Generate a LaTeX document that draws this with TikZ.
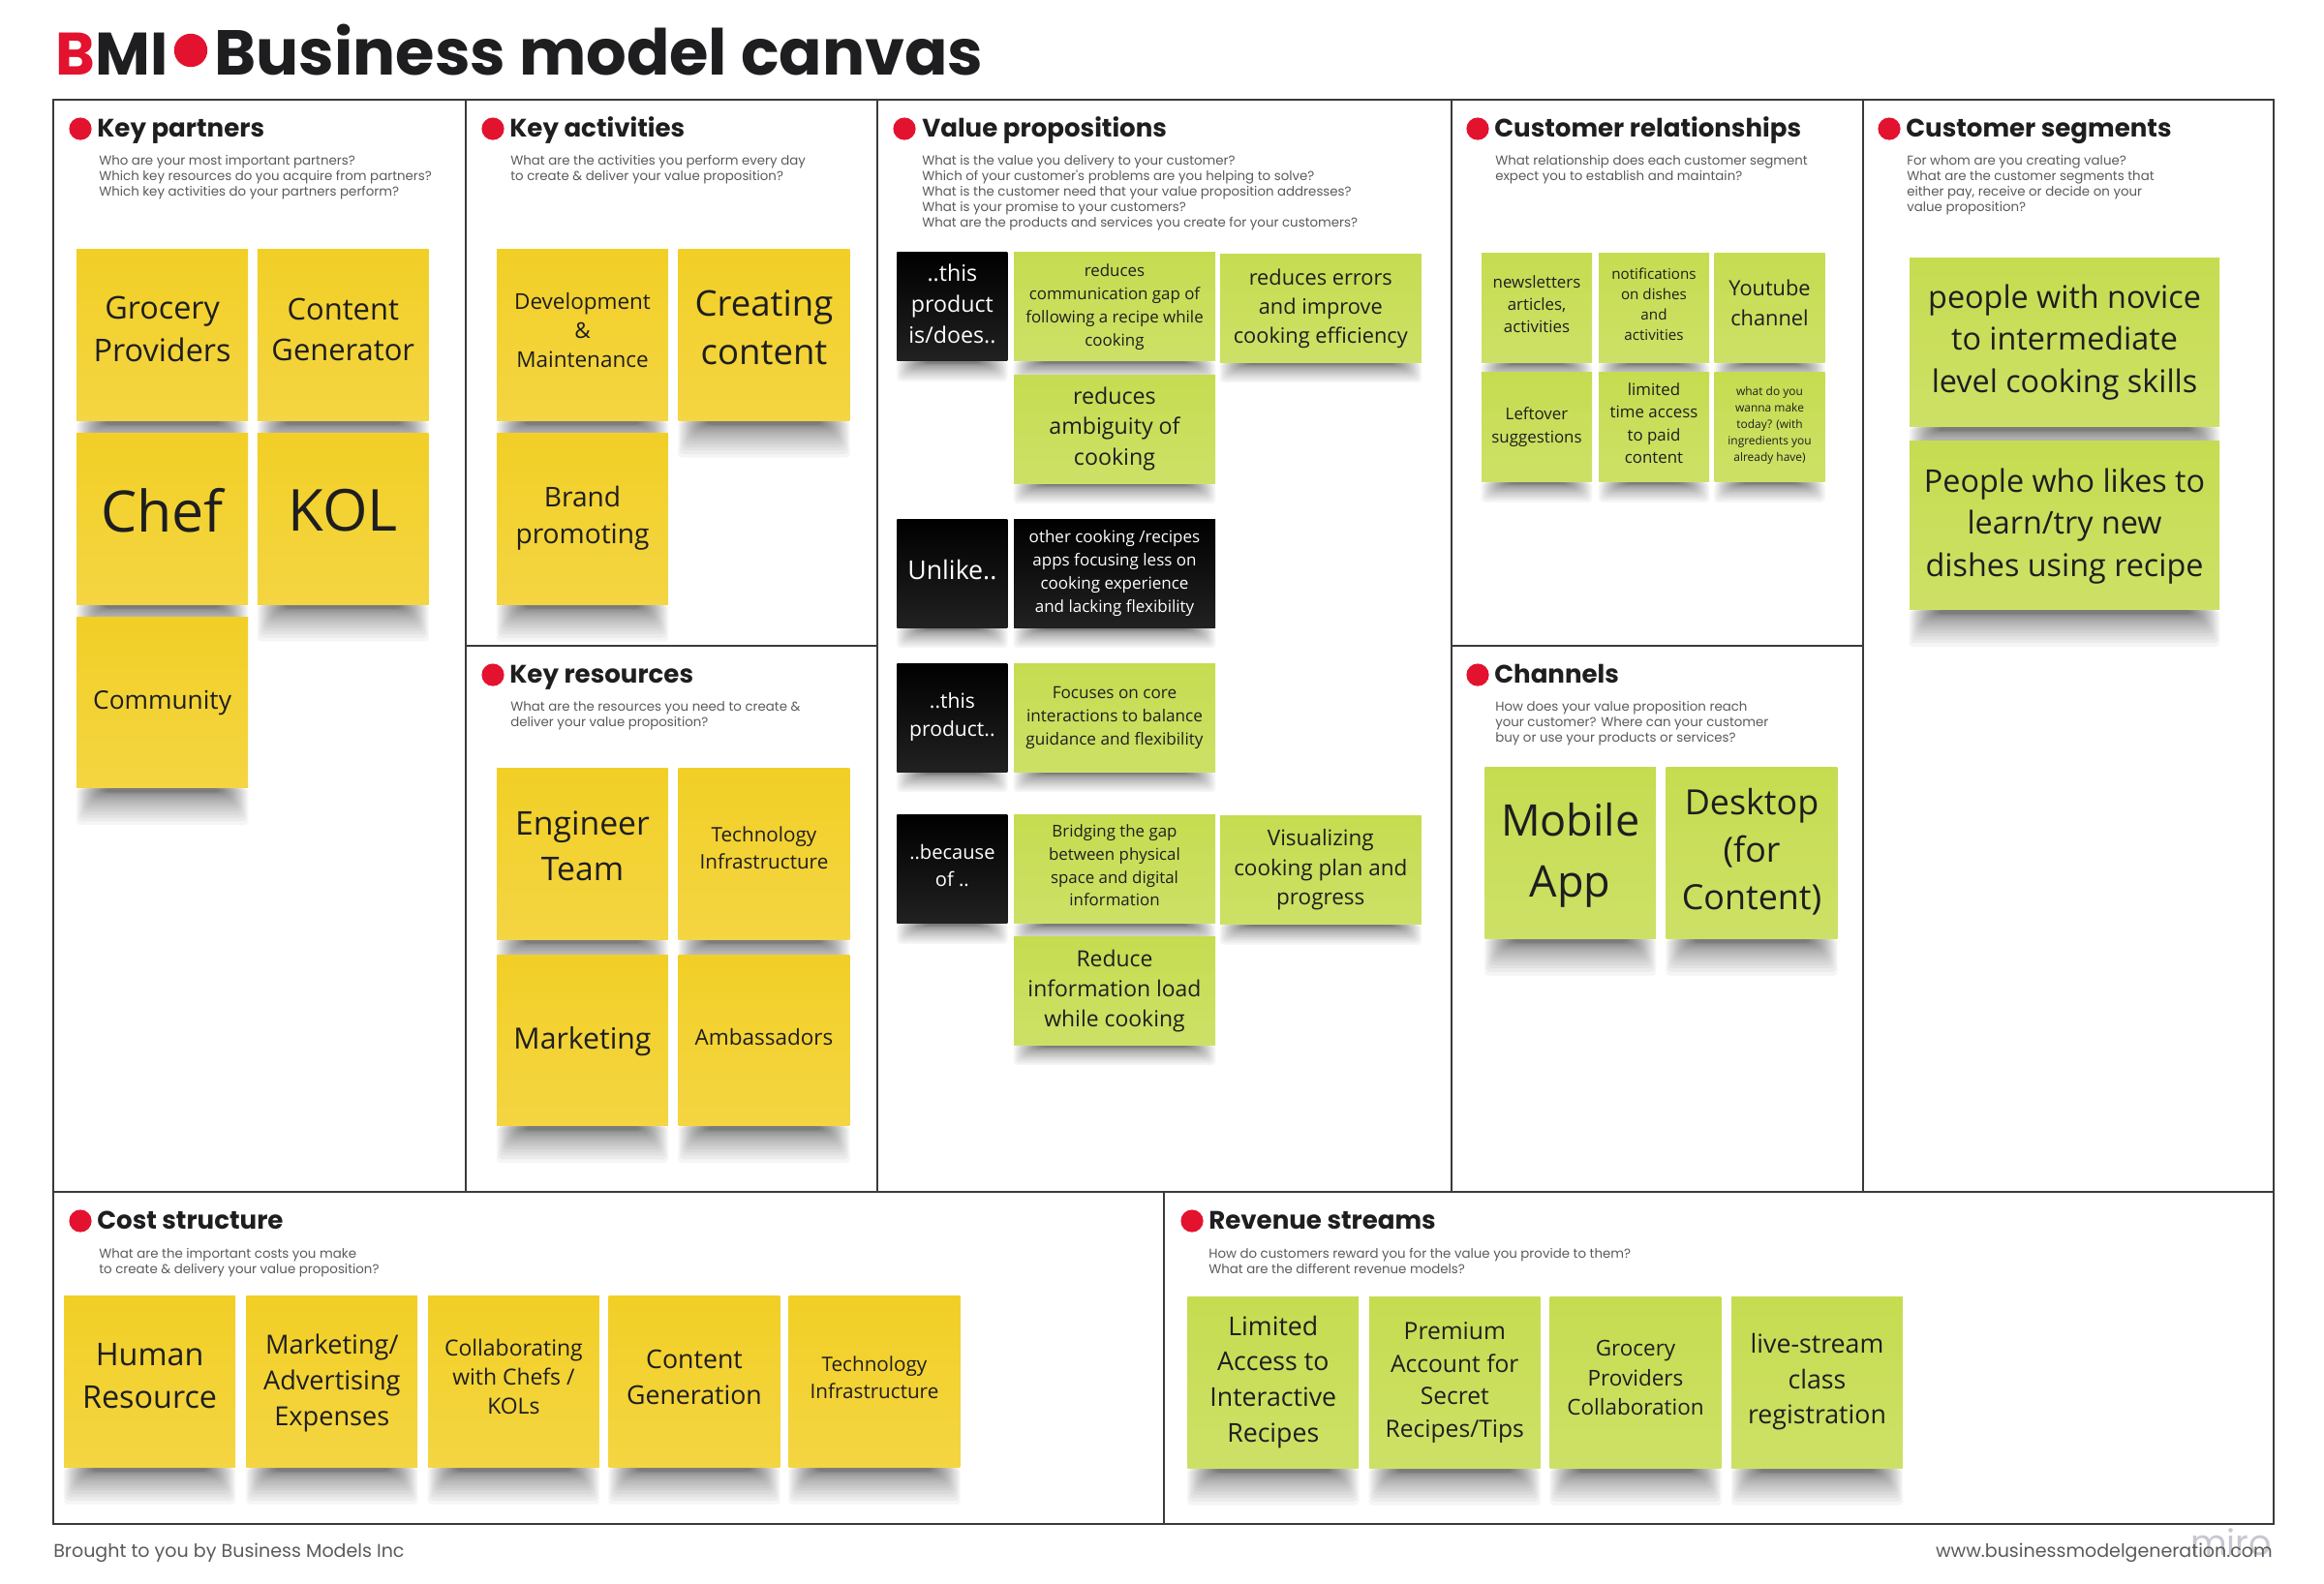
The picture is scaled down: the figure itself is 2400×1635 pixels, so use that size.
\documentclass[tikz,border=0pt]{standalone}
\usepackage{fontspec}
\setmainfont{Open Sans}
\newfontfamily\headfont{Poppins}
\usepackage{xcolor}
\usetikzlibrary{calc,backgrounds}
\definecolor{bmired}{HTML}{E3122F}
\definecolor{inkdark}{HTML}{1E1E20}
\definecolor{panelline}{HTML}{3A3A3A}
\definecolor{askgrey}{HTML}{5A5A5A}
\definecolor{stickyellow}{HTML}{F2CF26}
\definecolor{stickgreen}{HTML}{C6DC50}
\definecolor{watermark}{HTML}{C8C8D2}
\newcommand{\castshadow}[2]{%
  \foreach \n in {#2} {
    \foreach \k in {0,...,17} {
      \fill[black, opacity=0.038, rounded corners=1mm]
        ($(\n.south west)+({1.8*\k},0)$) rectangle ($(\n.south east)+({-1.8*\k},{#1*(4+34*(1-\k/17)^2)})$);
    }
  }
}
\newcommand{\lft}[1]{\\[\dimexpr1.4226pt*#1-\baselineskip\relax]\null}
\tikzset{
  fs/.style 2 args={font=\fontsize{#1}{#2}\selectfont},
  panel/.style={draw=panelline, line width=0.5mm},
  stick/.style={rectangle, top color=#1, bottom color=#1!87!white, text=inkdark,
                align=center, inner sep=0pt},
  big/.style={minimum width=44.2mm, minimum height=44.2mm},
  wide/.style={minimum width=52mm, minimum height=28mm},
  small/.style={minimum width=28.5mm, minimum height=28mm},
  blacknote/.style={stick=black, text=white},
  dot/.style={circle, fill=bmired, inner sep=0pt, minimum size=5.8mm},
  head/.style={anchor=base west, inner sep=0pt, text=inkdark,
               font=\headfont\bfseries\fontsize{18.55}{22}\selectfont},
  ask/.style={anchor=north west, inner sep=0pt, align=left, text=askgrey,
              font=\headfont\fontsize{9.5}{11.4}\selectfont},
  foot/.style={anchor=base, inner sep=0pt, text=askgrey,
               font=\headfont\fontsize{13.55}{16}\selectfont},
}
\begin{document}
\begin{tikzpicture}[x=0.25mm, y=-0.25mm]
  \useasboundingbox (0,0) rectangle (2400,1635);

  \node[anchor=base west, inner sep=0pt, text=bmired, font=\headfont\bfseries\fontsize{44}{50}\selectfont] (logob) at (57,77) {B};
  \node[anchor=base west, inner sep=0pt, text=inkdark, font=\headfont\bfseries\fontsize{44}{50}\selectfont] (logomi) at (logob.base east) {MI};
  \node[dot, minimum size=8.6mm] (logodot) at (197,52) {};
  \node[anchor=base west, inner sep=0pt, text=inkdark, font=\headfont\bfseries\fontsize{46.6}{50}\selectfont] (title) at (221,77) {Business model canvas};

  \draw[panel] (55,102.5) rectangle (2348,1573.5);
  \draw[panel] (55,1230.5) -- (2348,1230.5);
  \draw[panel] (480.6,102.5) -- (480.6,1230.5);
  \draw[panel] (906,102.5) -- (906,1230.5);
  \draw[panel] (1498.5,102.5) -- (1498.5,1230.5);
  \draw[panel] (1924,102.5) -- (1924,1230.5);
  \draw[panel] (480.6,667) -- (906,667);
  \draw[panel] (1498.5,667) -- (1924,667);
  \draw[panel] (1201.5,1230.5) -- (1201.5,1573.5);

  \node[dot] (dkp) at (83,133) {};
  \node[head] (hkp) at (100,141) {Key partners};
  \node[ask] (qkp) at (102,160) {Who are your most important partners?\\Which key resources do you acquire from partners?\\Which key activities do your partners perform?};
  \node[dot] (dka) at (509,133) {};
  \node[head] (hka) at (526,141) {Key activities};
  \node[ask] (qka) at (527,160) {What are the activities you perform every day\\to create \& deliver your value proposition?};
  \node[dot] (dkr) at (509,697) {};
  \node[head] (hkr) at (526,705) {Key resources};
  \node[ask] (qkr) at (527,724) {What are the resources you need to create \&\\deliver your value proposition?};
  \node[dot] (dvp) at (934,133) {};
  \node[head] (hvp) at (952,141) {Value propositions};
  \node[ask] (qvp) at (952,160) {What is the value you delivery to your customer?\\Which of your customer's problems are you helping to solve?\\What is the customer need that your value proposition addresses?\\What is your promise to your customers?\\What are the products and services you create for your customers?};
  \node[dot] (dcr) at (1526,133) {};
  \node[head] (hcr) at (1543,141) {Customer relationships};
  \node[ask] (qcr) at (1544,160) {What relationship does each customer segment\\expect you to establish and maintain?};
  \node[dot] (dch) at (1526,697) {};
  \node[head] (hch) at (1543,705) {Channels};
  \node[ask] (qch) at (1544,724) {How does your value proposition reach\\your customer? Where can your customer\\buy or use your products or services?};
  \node[dot] (dcs) at (1951,133) {};
  \node[head] (hcs) at (1968,141) {Customer segments};
  \node[ask] (qcs) at (1969,160) {For whom are you creating value?\\What are the customer segments that\\either pay, receive or decide on your\\value proposition?};
  \node[dot] (dco) at (83,1261) {};
  \node[head] (hco) at (100,1269) {Cost structure};
  \node[ask] (qco) at (102,1289) {What are the important costs you make\\to create \& delivery your value proposition?};
  \node[dot] (drs) at (1231,1261) {};
  \node[head] (hrs) at (1248,1269) {Revenue streams};
  \node[ask] (qrs) at (1248,1289) {How do customers reward you for the value you provide to them?\\What are the different revenue models?};

  \node[stick=stickyellow, big, fs={23}{31}] (kp1) at (167.6,346) {Grocery\\Providers\lft{6}};
  \node[stick=stickyellow, big, fs={22}{30}] (kp2) at (354.3,346) {Content\\Generator\lft{6}};
  \node[stick=stickyellow, big, fs={42}{50}] (kp3) at (167.6,535.7) {Chef\lft{9}};
  \node[stick=stickyellow, big, fs={42.5}{50}] (kp4) at (354.3,535.7) {KOL\lft{9}};
  \node[stick=stickyellow, big, fs={18.7}{26}] (kp5) at (167.6,725.5) {Community\lft{3}};

  \node[stick=stickyellow, big, fs={16}{21.5}] (ka1) at (601.5,346) {Development\\\&\\Maintenance\lft{5}};
  \node[stick=stickyellow, big, fs={26}{35}] (ka2) at (789,346) {Creating\\content\lft{8}};
  \node[stick=stickyellow, big, fs={20}{27}] (ka3) at (601.5,535.7) {Brand\\promoting\lft{4}};

  \node[stick=stickyellow, big, fs={24}{33}] (kr1) at (601.5,881.6) {Engineer\\Team\lft{8}};
  \node[stick=stickyellow, big, fs={14.7}{20}] (kr2) at (789,881.6) {Technology\\Infrastructure\lft{6}};
  \node[stick=stickyellow, big, fs={21.5}{28}] (kr3) at (601.5,1074.5) {Marketing\lft{3}};
  \node[stick=stickyellow, big, fs={16}{23}] (kr4) at (789,1074.5) {Ambassadors\lft{4}};

  \node[blacknote, small, fs={16.5}{22.5}] (vb1) at (983.4,316.8) {..this\\product\\is/does..\lft{3}};
  \node[stick=stickgreen, wide, fs={12}{17}] (vp1) at (1151,316.8) {reduces\\communication gap of\\following a recipe while\\cooking\lft{2}};
  \node[stick=stickgreen, wide, fs={15.5}{21.5}] (vp2) at (1363.8,318) {reduces errors\\and improve\\cooking efficiency\lft{2}};
  \node[stick=stickgreen, wide, fs={16.5}{22.5}] (vp3) at (1151,443) {reduces\\ambiguity of\\cooking\lft{3}};
  \node[blacknote, small, fs={19}{25}] (vb2) at (983.4,592) {Unlike..\lft{4}};
  \node[blacknote, wide, fs={12.1}{17}] (vb3) at (1151,592) {other cooking /recipes\\apps focusing less on\\cooking experience\\and lacking flexibility\lft{2}};
  \node[blacknote, small, fs={15}{21}] (vb4) at (983.4,741) {..this\\product..\lft{3}};
  \node[stick=stickgreen, wide, fs={12.2}{17}] (vp4) at (1151,741) {Focuses on core\\interactions to balance\\guidance and flexibility\lft{2}};
  \node[blacknote, small, fs={14.3}{20}] (vb5) at (983.4,897.7) {..because\\of ..\lft{4}};
  \node[stick=stickgreen, wide, fs={12}{17}] (vp5) at (1151,897.7) {Bridging the gap\\between physical\\space and digital\\information\lft{4}};
  \node[stick=stickgreen, wide, fs={16}{22}] (vp6) at (1363.8,898.5) {Visualizing\\cooking plan and\\progress\lft{3}};
  \node[stick=stickgreen, wide, fs={16.3}{22}] (vp7) at (1151,1023) {Reduce\\information load\\while cooking\lft{2}};

  \node[stick=stickgreen, small, minimum height=28.3mm, fs={12}{16.5}] (cr1) at (1587,318) {newsletters\\articles,\\activities\lft{4}};
  \node[stick=stickgreen, small, minimum height=28.3mm, fs={10.8}{15}] (cr2) at (1708,318) {notifications\\on dishes\\and\\activities\lft{4}};
  \node[stick=stickgreen, small, minimum height=28.3mm, fs={15.5}{22}] (cr3) at (1827.5,318) {Youtube\\channel\lft{5}};
  \node[stick=stickgreen, small, minimum height=28.3mm, fs={12}{16.5}] (cr4) at (1587,441) {Leftover\\suggestions};
  \node[stick=stickgreen, small, minimum height=28.3mm, fs={12}{16.5}] (cr5) at (1708,441) {limited\\time access\\to paid\\content\lft{4}};
  \node[stick=stickgreen, small, minimum height=28.3mm, fs={8.5}{12}] (cr6) at (1827.5,441) {what do you\\wanna make\\today? (with\\ingredients you\\already have)\lft{3}};

  \node[stick=stickgreen, big, fs={32}{45}] (ch1) at (1621.7,881) {Mobile\\App\lft{3}};
  \node[stick=stickgreen, big, fs={25.5}{35}] (ch2) at (1809,881) {Desktop\\(for\\Content)\lft{4}};

  \node[stick=stickgreen, big, minimum width=80mm, minimum height=43.6mm, fs={23}{31}] (cs1) at (2132,353.6) {people with novice\\to intermediate\\level cooking skills\lft{4}};
  \node[stick=stickgreen, big, minimum width=80mm, minimum height=43.6mm, fs={23}{31}] (cs2) at (2132,542.6) {People who likes to\\learn/try new\\dishes using recipe\lft{3}};

  \node[stick=stickyellow, big, fs={23}{31}] (co1) at (154.6,1427) {Human\\Resource\lft{6}};
  \node[stick=stickyellow, big, fs={19.3}{26.5}] (co2) at (342.8,1427) {Marketing/\\Advertising\\Expenses\lft{2}};
  \node[stick=stickyellow, big, fs={16.3}{21.5}] (co3) at (530.4,1427) {Collaborating\\with Chefs /\\KOLs\lft{5}};
  \node[stick=stickyellow, big, fs={19}{26.5}] (co4) at (717,1427) {Content\\Generation\lft{5}};
  \node[stick=stickyellow, big, fs={14.7}{20}] (co5) at (903,1427) {Technology\\Infrastructure\lft{4}};

  \node[stick=stickgreen, big, fs={19}{26}] (rs1) at (1314.8,1428) {Limited\\Access to\\Interactive\\Recipes\lft{4}};
  \node[stick=stickgreen, big, fs={17.5}{24}] (rs2) at (1502.3,1428) {Premium\\Account for\\Secret\\Recipes/Tips\lft{3}};
  \node[stick=stickgreen, big, fs={16}{21.5}] (rs3) at (1689,1428) {Grocery\\Providers\\Collaboration\lft{5}};
  \node[stick=stickgreen, big, fs={19}{26}] (rs4) at (1876.5,1428) {live-stream\\class\\registration\lft{4}};

  \begin{scope}[on background layer]
    \castshadow{1}{kp1,kp2,kp3,kp4,kp5,ka1,ka2,ka3,kr1,kr2,kr3,kr4,ch1,ch2,cs1,cs2,co1,co2,co3,co4,co5,rs1,rs2,rs3,rs4}
    \castshadow{0.55}{vb1,vp1,vp2,vp3,vb2,vb3,vb4,vp4,vb5,vp5,vp6,vp7,cr1,cr2,cr3,cr4,cr5,cr6}
  \end{scope}

  \node[anchor=base east, inner sep=0pt, text=watermark, font=\headfont\fontsize{26}{28}\selectfont] (miro) at (2346,1606) {miro};
  \node[foot, anchor=base west] (fl) at (55,1608) {Brought to you by Business Models Inc};
  \node[foot, anchor=base east] (fr) at (2347,1608) {www.businessmodelgeneration.com};
\end{tikzpicture}
\end{document}
